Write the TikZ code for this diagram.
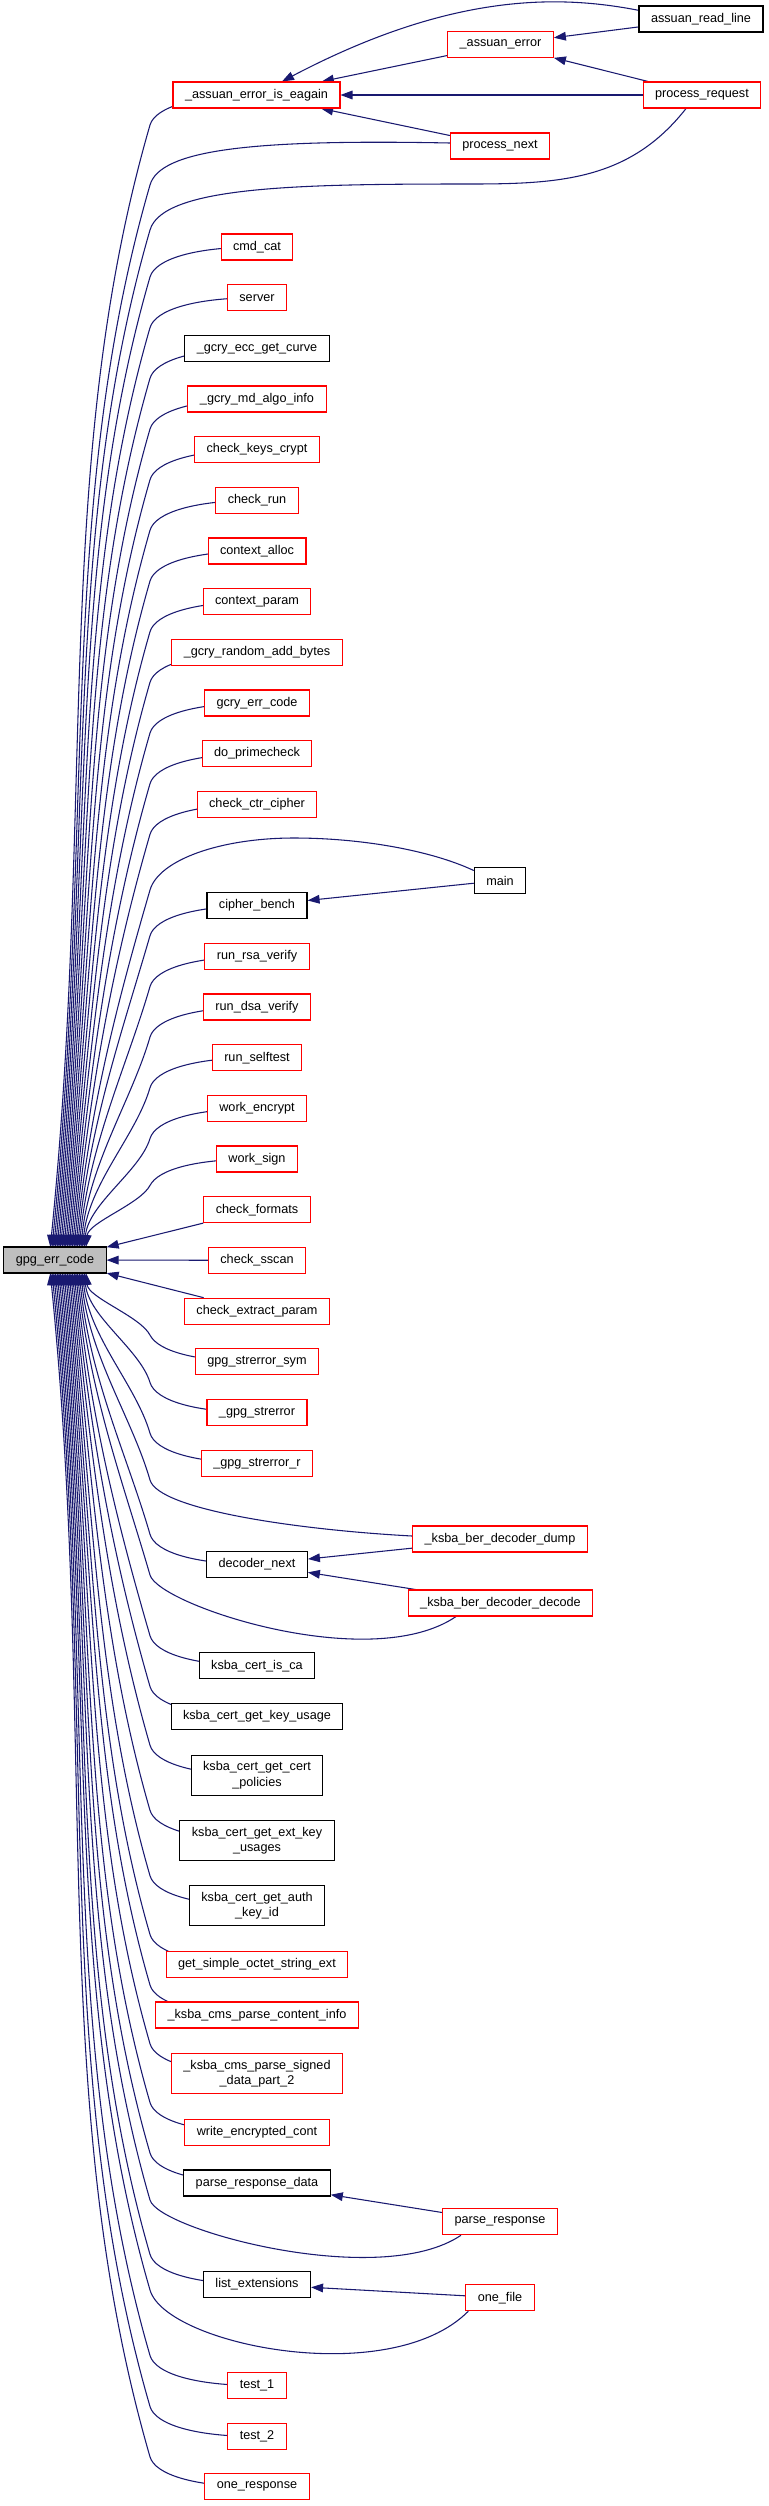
\documentclass[tikz,border=0pt]{standalone}
\usepackage{fontspec}
\setmainfont{Liberation Sans}
\usepackage{xcolor}
\definecolor{callblue}{HTML}{191970}
\definecolor{rootgray}{HTML}{BFBFBF}
\usetikzlibrary{arrows.meta,backgrounds,calc}
\tikzset{
  fn/.style={draw=red, fill=white, line width=0.8pt, align=center, inner xsep=9pt, inner ysep=0pt,
    minimum height=19.5pt, font=\fontsize{9.5}{11.4}\selectfont},
  fndoc/.style={fn, draw=black},
  fnroot/.style={fndoc, fill=rootgray},
  twoline/.style={minimum height=30pt},
  call/.style={draw=callblue, line width=0.8pt, -{Triangle[length=9pt, width=6.5pt]}},
}

\begin{document}
\begin{tikzpicture}[x=0.75pt, y=-0.75pt]
  \useasboundingbox (0,0) rectangle (768,2506);
  % the function itself
  \node[fnroot] (gpg) at (55,1260) {gpg\_err\_code};
  % outer callers
  \node[fndoc] (readline) at (701,19) {assuan\_read\_line};
  \node[fn] (procreq) at (702,95) {process\_request};
  \node[fn] (aerror) at (500.5,44.5) {\_assuan\_error};
  \node[fn] (procnext) at (500,146) {process\_next};
  \node[fndoc] (main) at (500,880.5) {main};
  \node[fn] (berdump) at (500,1539) {\_ksba\_ber\_decoder\_dump};
  \node[fn] (berdecode) at (500.5,1603) {\_ksba\_ber\_decoder\_decode};
  \node[fn] (parseresp) at (500,2221.7) {parse\_response};
  \node[fn] (onefile) at (500,2297.7) {one\_file};
  % direct callers
  \node[fn] (eagain) at (256.5,95) {\_assuan\_error\_is\_eagain};
  \node[fn] (cmdcat) at (257,247) {cmd\_cat};
  \node[fn] (server) at (257,297.7) {server};
  \node[fndoc] (ecccurve) at (257,348.3) {\_gcry\_ecc\_get\_curve};
  \node[fn] (mdalgo) at (257,399) {\_gcry\_md\_algo\_info};
  \node[fn] (keyscrypt) at (257,449.7) {check\_keys\_crypt};
  \node[fn] (checkrun) at (257,500.3) {check\_run};
  \node[fn] (ctxalloc) at (257,551) {context\_alloc};
  \node[fn] (ctxparam) at (257,601.7) {context\_param};
  \node[fn] (randbytes) at (257,652.3) {\_gcry\_random\_add\_bytes};
  \node[fn] (gcryerr) at (257,703) {gcry\_err\_code};
  \node[fn] (primecheck) at (257,753.7) {do\_primecheck};
  \node[fn] (ctrcipher) at (257,804.3) {check\_ctr\_cipher};
  \node[fndoc] (cbench) at (257,905.7) {cipher\_bench};
  \node[fn] (rsaverify) at (257,956.5) {run\_rsa\_verify};
  \node[fn] (dsaverify) at (257,1007) {run\_dsa\_verify};
  \node[fn] (selftest) at (257,1057.7) {run\_selftest};
  \node[fn] (workenc) at (257,1108.5) {work\_encrypt};
  \node[fn] (worksign) at (257,1159) {work\_sign};
  \node[fn] (chkformats) at (257,1209.7) {check\_formats};
  \node[fn] (chksscan) at (257,1260.3) {check\_sscan};
  \node[fn] (extparam) at (257,1311.2) {check\_extract\_param};
  \node[fn] (strsym) at (257,1361.7) {gpg\_strerror\_sym};
  \node[fn] (gstrerror) at (257,1412.5) {\_gpg\_strerror};
  \node[fn] (gstrerrorr) at (257,1463.2) {\_gpg\_strerror\_r};
  \node[fndoc] (decnext) at (257,1564.3) {decoder\_next};
  \node[fndoc] (isca) at (257,1665.7) {ksba\_cert\_is\_ca};
  \node[fndoc] (keyusage) at (257,1716.5) {ksba\_cert\_get\_key\_usage};
  \node[fndoc, twoline] (certpol) at (257,1775.2) {ksba\_cert\_get\_cert\\\_policies};
  \node[fndoc, twoline] (extkey) at (257,1840.3) {ksba\_cert\_get\_ext\_key\\\_usages};
  \node[fndoc, twoline] (authkey) at (257,1905.7) {ksba\_cert\_get\_auth\\\_key\_id};
  \node[fn] (octet) at (257,1964.5) {get\_simple\_octet\_string\_ext};
  \node[fn] (contentinfo) at (257,2015) {\_ksba\_cms\_parse\_content\_info};
  \node[fn, twoline] (signeddata) at (257,2073.7) {\_ksba\_cms\_parse\_signed\\\_data\_part\_2};
  \node[fn] (writeenc) at (257,2132.5) {write\_encrypted\_cont};
  \node[fndoc] (respdata) at (257,2183) {parse\_response\_data};
  \node[fndoc] (listext) at (257,2284.3) {list\_extensions};
  \node[fn] (test1) at (257,2385.5) {test\_1};
  \node[fn] (test2) at (257,2436.5) {test\_2};
  \node[fn] (oneresp) at (257,2486.8) {one\_response};

  \begin{scope}[on background layer]
    \fill[white] (0,0) rectangle (768,2506);
    % calls between callers
    \draw[call] ($(readline.west)+(0,-8.7)$) .. controls (560,-5) and (452,-8) .. ($(eagain.north)+(25.5,0)$);
    \draw[call] (readline) -- (aerror);
    \draw[call] (aerror) -- (eagain);
    \draw[call] (procreq) -- (aerror);
    \draw[call] (procreq) -- (eagain);
    \draw[call] (procnext) -- (eagain);
    \draw[call] (main) -- (cbench);
    \draw[call] (berdump) -- (decnext);
    \draw[call] (berdecode) -- (decnext);
    \draw[call] (parseresp) -- (respdata);
    \draw[call] (onefile) -- (listext);
    % short calls into gpg_err_code
    \draw[call] (chkformats) -- (gpg);
    \draw[call] (chksscan) -- (gpg);
    \draw[call] (extparam) -- (gpg);
    % fan from above
    \foreach \nd/\yy/\xe in {worksign/1159/86, workenc/1108.5/84.3, selftest/1057.7/82.6,
        dsaverify/1007/80.9, rsaverify/956.5/79.2, cbench/905.7/77.5, ctrcipher/804.3/74.1,
        primecheck/753.7/72.4, gcryerr/703/70.7, randbytes/652.3/69, ctxparam/601.7/67.3,
        ctxalloc/551/65.6, checkrun/500.3/63.9, keyscrypt/449.7/62.2, mdalgo/399/60.5,
        ecccurve/348.3/58.8, server/297.7/57.1, cmdcat/247/55.4, eagain/95/50.3} {
      \pgfmathsetmacro\offs{min(30,0.3*(1247-\yy))}
      \pgfmathsetmacro\qy{\yy+\offs}
      \pgfmathsetmacro\rest{1247-\qy}
      \pgfmathsetmacro\slope{max(0.29,0.5*(150-\xe)/\rest)}
      \draw[call] (\nd.center) .. controls (195,\yy) and ({150+\slope*0.6*\offs},{\qy-0.6*\offs}) .. (150,\qy)
        .. controls ({150-\slope*0.3*\rest},{\qy+0.3*\rest}) and ({\xe+0.04*\rest},{1247-0.4*\rest}) .. (\xe,1247);
    }
    % fan from below
    \foreach \nd/\yy/\xe in {strsym/1361.7/86, gstrerror/1412.5/84.3, gstrerrorr/1463.2/82.6,
        decnext/1564.3/79.2, isca/1665.7/75.8, keyusage/1716.5/74.1, certpol/1775.2/72.4,
        extkey/1840.3/70.7, authkey/1905.7/69, octet/1964.5/67.3, contentinfo/2015/65.6,
        signeddata/2073.7/63.9, writeenc/2132.5/62.2, respdata/2183/60.5, listext/2284.3/57.1,
        test1/2385.5/53.7, test2/2436.5/52, oneresp/2486.8/50.3} {
      \pgfmathsetmacro\offs{min(30,0.3*(\yy-1273))}
      \pgfmathsetmacro\qy{\yy-\offs}
      \pgfmathsetmacro\rest{\qy-1273}
      \pgfmathsetmacro\slope{max(0.29,0.5*(150-\xe)/\rest)}
      \draw[call] (\nd.center) .. controls (195,\yy) and ({150+\slope*0.6*\offs},{\qy+0.6*\offs}) .. (150,\qy)
        .. controls ({150-\slope*0.3*\rest},{\qy-0.3*\rest}) and ({\xe+0.04*\rest},{1273+0.4*\rest}) .. (\xe,1273);
    }
    % long calls from the outer callers
    \draw[call] ($(procnext.west)+(0,-3)$) .. controls (250,139) and (160,150) .. (150,185)
      .. controls (57.6,503.6) and (94.5,822.2) .. (52,1247);
    \draw[call] ($(procreq.south)+(-16,0)$) .. controls (630,180) and (560,184) .. (470,184)
      .. controls (300,184) and (162.8,186) .. (150,230)
      .. controls (61.5,535.1) and (94.4,840.2) .. (53.7,1247);
    \draw[call] ($(main.west)+(0,-10)$) .. controls (430,850) and (360,838) .. (294,838)
      .. controls (220,838) and (158.7,860) .. (150,890)
      .. controls (118.9,997.1) and (90.1,1104.2) .. (75.8,1247);
    \draw[call] ($(berdump.west)+(0,-3)$) .. controls (300,1530) and (158.7,1510) .. (150,1480)
      .. controls (132,1417.9) and (89.2,1355.8) .. (80.9,1273);
    \draw[call] ($(berdecode.south)+(-44.5,0)$) .. controls (370,1675) and (158.7,1605) .. (150,1575)
      .. controls (123.7,1484.4) and (89.6,1393.8) .. (77.5,1273);
    \draw[call] ($(parseresp.south)+(-39,0)$) .. controls (380,2290) and (158.7,2230) .. (150,2200)
      .. controls (69.4,1921.9) and (95.9,1643.8) .. (58.8,1273);
    \draw[call] ($(onefile.south west)+(3,0)$) .. controls (390,2390) and (166,2345) .. (150,2290)
      .. controls (61.5,1984.9) and (96.1,1679.8) .. (55.4,1273);
  \end{scope}
\end{tikzpicture}
\end{document}
